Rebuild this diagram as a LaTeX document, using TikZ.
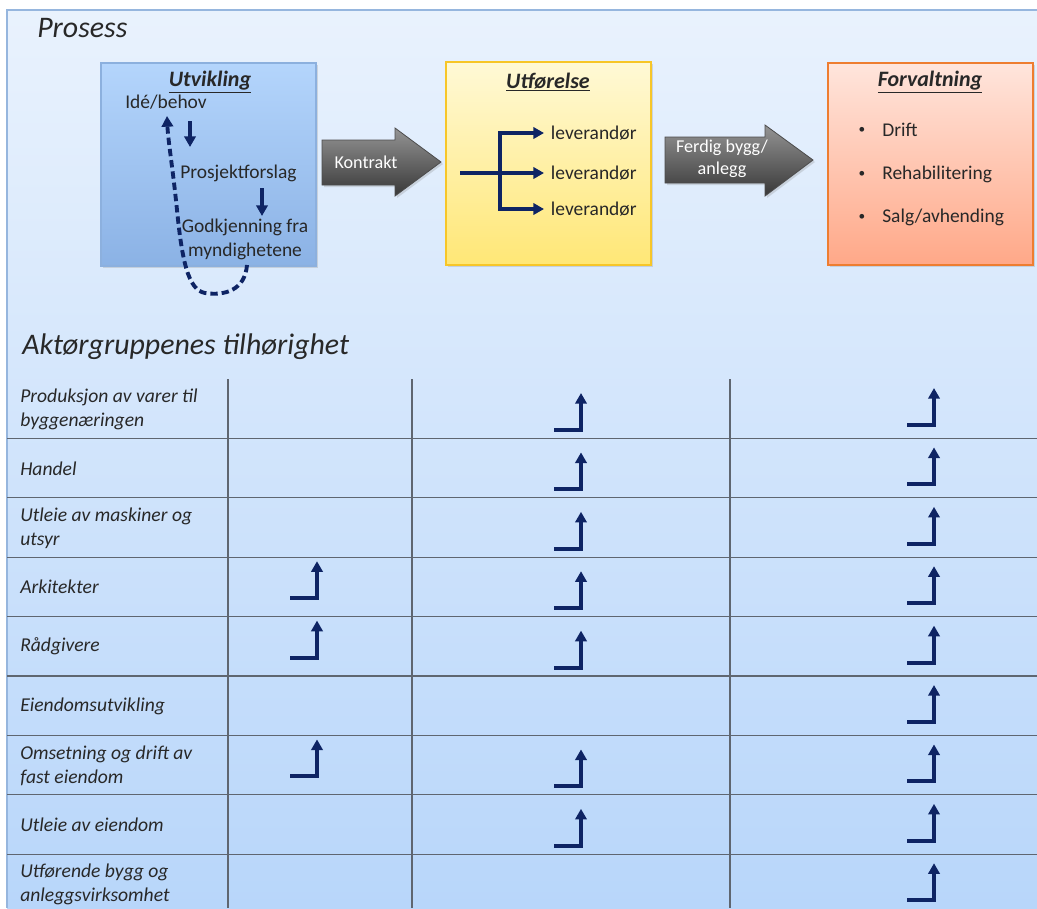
\documentclass[tikz,border=0pt]{standalone}
\usepackage{fontspec}
\setmainfont{Carlito}
\usepackage{xcolor}
\usepackage{tikz}
\usetikzlibrary{arrows.meta, positioning, shadows}

\definecolor{navy}{RGB}{14,36,100}
\definecolor{panelTop}{RGB}{233,242,253}
\definecolor{panelBot}{RGB}{184,214,250}
\definecolor{panelEdge}{RGB}{150,182,222}
\definecolor{gridline}{RGB}{95,102,112}
\definecolor{txt}{RGB}{40,40,40}

\begin{document}
\begin{tikzpicture}[x=0.75pt, y=-0.75pt,
    box/.style={rectangle, draw, line width=1pt, drop shadow={shadow xshift=1.5pt, shadow yshift=-1.5pt, opacity=0.25}},
    head/.style={font=\bfseries\itshape\fontsize{16.5}{19}\selectfont, text=txt},
    inner/.style={font=\fontsize{14.6}{17}\selectfont, text=txt, inner sep=0pt},
    title/.style={font=\itshape\fontsize{22.4}{26}\selectfont, text=txt, anchor=west, inner sep=0pt},
    wtext/.style={font=\fontsize{13.6}{16.5}\selectfont, text=white, align=center},
    garrow/.style={draw=black!70, line width=0.6pt, top color=black!42, bottom color=black!78, drop shadow={shadow xshift=1.5pt, shadow yshift=-1.5pt, opacity=0.25}},
    flow/.style={navy, line width=2.9pt, -{Triangle[length=8pt, width=8.5pt]}},
    dashflow/.style={flow, dash pattern=on 5.5pt off 3pt},
    grid/.style={gridline, line width=0.8pt},
    rowlbl/.style={font=\itshape\fontsize{14.7}{18}\selectfont, text=txt, anchor=west, align=left, inner sep=0pt},
    upturn/.pic={\draw[flow, line cap=butt] (-27,0) -- (0,0) -- (0,-37);}]

    \useasboundingbox (0,0) rectangle (1037,908);
    % background panel
    \fill[white] (0,0) rectangle (1037,908);
    \shade[top color=panelTop, bottom color=panelBot] (7,10) rectangle (1037,908);
    \draw[panelEdge, line width=1pt] (7,908) -- (7,10) -- (1037,10);

    \node[title] (prosess) at (37,28) {Prosess};

    % process boxes
    \node[box, draw={rgb,255:red,140;green,176;blue,222},
          top color={rgb,255:red,180;green,213;blue,252}, bottom color={rgb,255:red,139;green,178;blue,229},
          minimum width=161.25pt, minimum height=152.25pt] (utv) at (208.5,164.5) {};
    \node[box, draw={rgb,255:red,247;green,198;blue,40},
          top color={rgb,255:red,255;green,249;blue,214}, bottom color={rgb,255:red,255;green,231;blue,118},
          minimum width=153.75pt, minimum height=152.25pt] (utf) at (548.5,163.5) {};
    \node[box, draw={rgb,255:red,238;green,125;blue,48},
          top color={rgb,255:red,255;green,229;blue,220}, bottom color={rgb,255:red,255;green,168;blue,136},
          minimum width=153.75pt, minimum height=151.5pt] (forv) at (930.5,164) {};

    \node[head] (utvT) at (210,82) {\underline{Utvikling}};
    \node[head] (utfT) at (548,82) {\underline{Utførelse}};
    \node[head] (forvT) at (930,82) {\underline{Forvaltning}};

    % Utvikling
    \node[inner, anchor=west] (idea) at (125,102) {Idé/behov};
    \node[inner, anchor=west] (forslag) at (180,173) {Prosjektforslag};
    \node[inner, align=center, font=\fontsize{14.6}{17.5}\selectfont] (godkj) at (245,239.5) {Godkjenning fra\\myndighetene};
    \coordinate (a1s) at (190,121);
    \coordinate (a1e) at (190,147);
    \coordinate (a2s) at (262,188);
    \coordinate (a2e) at (262,216);
    \draw[flow] (a1s) -- (a1e);
    \draw[flow] (a2s) -- (a2e);
    \coordinate (fbs) at (247,265);
    \coordinate (fbe) at (167,116);
    \draw[dashflow] (fbs) .. controls (245,290) and (225,296) .. (205,293)
        .. controls (188,290) and (182,260) .. (177,210)
        .. controls (173,170) and (168,140) .. (fbe);

    % Utførelse
    \node[inner, anchor=west, inner sep=5pt] (lev1) at (544,133) {leverandør};
    \node[inner, anchor=west, inner sep=5pt] (lev2) at (544,173) {leverandør};
    \node[inner, anchor=west, inner sep=5pt] (lev3) at (544,209) {leverandør};
    \coordinate (stem) at (460,173);
    \coordinate (fork) at (500,173);
    \draw[flow] (stem) -- (lev2);
    \draw[flow] (fork) |- (lev1);
    \draw[flow] (fork) |- (lev3);

    % Forvaltning
    \node[inner, anchor=west] (drift) at (882,130) {Drift};
    \node[inner, anchor=west] (rehab) at (882,174) {Rehabilitering};
    \node[inner, anchor=west] (salg) at (882,217) {Salg/avhending};
    \node[inner, font=\fontsize{10}{12}\selectfont] (b1) at (862,130) {•};
    \node[inner, font=\fontsize{10}{12}\selectfont] (b2) at (862,174) {•};
    \node[inner, font=\fontsize{10}{12}\selectfont] (b3) at (862,217) {•};

    % block arrows
    \draw[garrow] (322,140) -- (395,140) -- (395,128) -- (441,162) -- (395,196) -- (395,185) -- (322,185) -- cycle;
    \node[wtext] (kontrakt) at (366,162) {Kontrakt};
    \draw[garrow] (665,137) -- (765,137) -- (765,125) -- (813,160) -- (765,196) -- (765,183) -- (665,183) -- cycle;
    \node[wtext] (ferdig) at (722,159) {Ferdig bygg/\\anlegg};

    % table
    \node[title] (aktor) at (22,347) {Aktørgruppenes tilhørighet};
    \foreach \y in {438.4,497.8,557.2,616.6,676,735.4,794.8,854.2}
        \draw[grid] (7,\y) -- (1037,\y);
    \foreach \x in {228,412,730}
        \draw[grid] (\x,379) -- (\x,908);

    \foreach \lbl [count=\i] in {{Produksjon av varer til\\byggenæringen}, Handel,
        {Utleie av maskiner og\\utsyr}, Arkitekter, Rådgivere, Eiendomsutvikling,
        {Omsetning og drift av\\fast eiendom}, Utleie av eiendom,
        {Utførende bygg og\\anleggsvirksomhet}}
        \node[rowlbl] (row\i) at (20,{349.6+59.4*\i}) {\lbl};

    \foreach \i in {4,5,7}
        \pic at (317,{360.6+59.4*\i}) {upturn};
    \foreach \i in {1,2,3,4,5,7,8}
        \pic at (581,{370.6+59.4*\i}) {upturn};
    \foreach \i in {1,...,9}
        \pic at (934,{365.6+59.4*\i}) {upturn};
\end{tikzpicture}
\end{document}
